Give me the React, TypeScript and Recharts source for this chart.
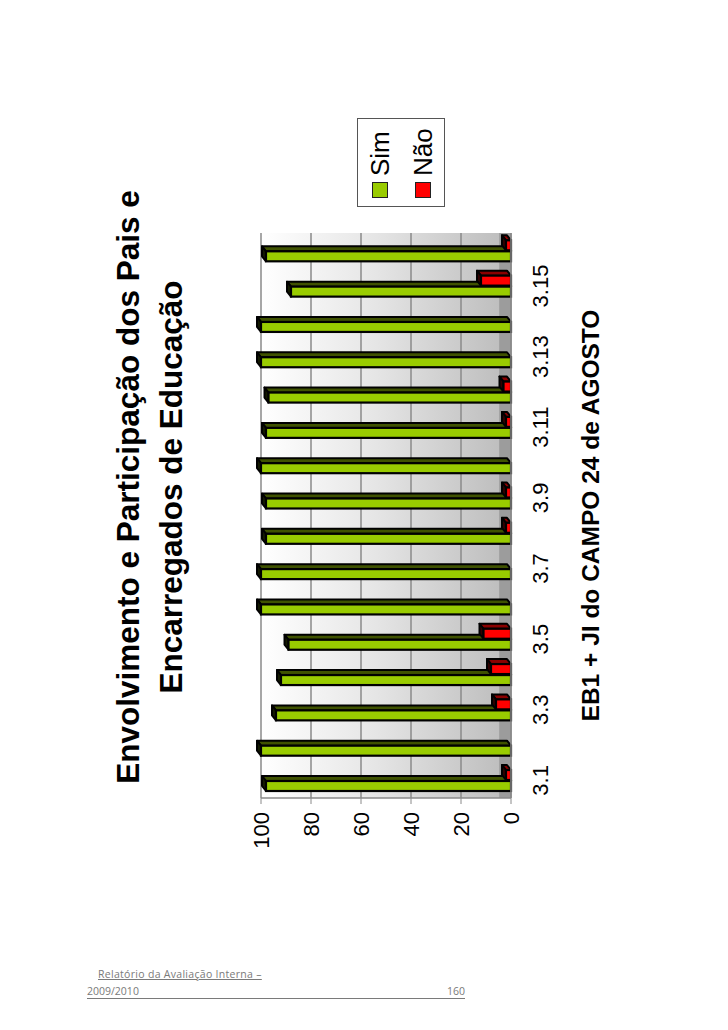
import React from 'react';
import { BarChart, Bar, XAxis, YAxis, CartesianGrid, Legend, Label } from 'recharts';

const CATEGORIES = ['3.1', '3.2', '3.3', '3.4', '3.5', '3.6', '3.7', '3.8', '3.9', '3.10', '3.11', '3.12', '3.13', '3.14', '3.15', '3.16'];
const SIM = [98, 100, 94, 92, 89, 100, 100, 98, 98, 100, 98, 97, 100, 100, 88, 98];
const NAO = [2, 0, 6, 8, 11, 0, 0, 2, 2, 0, 2, 3, 0, 0, 12, 2];
const VALUE_TICKS = [0, 20, 40, 60, 80, 100];
const SERIES_NAMES = ['Sim', 'Não'];

const TITLE_LINES = ['Envolvimento e Participação dos Pais e', 'Encarregados de Educação'];
const AXIS_TITLE = 'EB1 + JI do CAMPO 24 de AGOSTO';

const data = CATEGORIES.map((c, i) => ({ cat: c, sim: SIM[i], nao: NAO[i] }));

const GREEN = '#99cc00';
const RED = '#ff0000';
const FONT = '"Liberation Sans", Arial, Helvetica, sans-serif';

const W = 760;
const H = 540;

function make3D(front: string, side: string, top: string) {
  return (props: any) => {
    const { x, y, width, height, value } = props;
    const v = Array.isArray(value) ? value[1] - value[0] : value;
    if (!v || height <= 0) return null;
    const dx = 5;
    const dy = -4;
    const sidePts = `${x + width},${y} ${x + width + dx},${y + dy} ${x + width + dx},${y + height + dy} ${x + width},${y + height}`;
    const topPts = `${x},${y} ${x + dx},${y + dy} ${x + width + dx},${y + dy} ${x + width},${y}`;
    return (
      <g>
        <polygon points={sidePts} fill={side} stroke="#000" strokeWidth={2} strokeLinejoin="round" />
        <polygon points={topPts} fill={top} stroke="#000" strokeWidth={2} strokeLinejoin="round" />
        <rect x={x} y={y} width={width} height={height} fill={front} stroke="#000" strokeWidth={2.2} />
      </g>
    );
  };
}

const SimShape = make3D(GREEN, '#3f5200', '#141a00');
const NaoShape = make3D(RED, '#8a0000', '#300000');

const LegendContent = (props: any) => {
  const payload = [...(props.payload || [])].sort(
    (a: any, b: any) => SERIES_NAMES.indexOf(a.value) - SERIES_NAMES.indexOf(b.value)
  );
  return (
    <div
      style={{
        width: 89,
        height: 88,
        boxSizing: 'border-box',
        border: '1px solid #555',
        background: '#fff',
        fontFamily: FONT,
      }}
    >
      {payload.map((p: any) => (
        <div key={p.value} style={{ height: 43, display: 'flex', alignItems: 'center', paddingLeft: 8 }}>
          <div style={{ width: 14, height: 14, background: p.color, border: '1px solid #222', marginRight: 6 }} />
          <span style={{ fontSize: 26, color: '#000', lineHeight: '30px' }}>{p.value}</span>
        </div>
      ))}
    </div>
  );
};

export default function App() {
  return (
    <div style={{ position: 'absolute', left: 0, top: 0, width: 728, height: 1030, background: '#fff', overflow: 'hidden' }}>
      <div
        style={{
          position: 'absolute',
          left: 0,
          top: 0,
          width: W,
          height: H,
          transformOrigin: '0 0',
          transform: 'translate(95px, 850px) rotate(-90deg)',
        }}
      >
        <div
          style={{
            position: 'absolute',
            left: 0,
            top: 12,
            width: 726,
            textAlign: 'center',
            fontFamily: FONT,
            fontWeight: 'bold',
            fontSize: 31.5,
            lineHeight: '43px',
            color: '#000',
          }}
        >
          {TITLE_LINES.map((t) => (
            <div key={t}>{t}</div>
          ))}
        </div>
        <BarChart
          width={W}
          height={H}
          data={data}
          margin={{ top: 166, right: 143, left: 7, bottom: 64 }}
          barSize={10}
          barGap={1}
          style={{ fontFamily: FONT }}
        >
          <defs>
            <linearGradient id="wallGrad" x1="0" y1="0" x2="0" y2="1">
              <stop offset="0" stopColor="#ffffff" />
              <stop offset="0.45" stopColor="#e6e6e6" />
              <stop offset="0.95" stopColor="#bfbfbf" />
              <stop offset="0.955" stopColor="#9c9c9c" />
              <stop offset="1" stopColor="#9c9c9c" />
            </linearGradient>
          </defs>
          <CartesianGrid vertical={false} stroke="#8a8a8a" strokeWidth={1.5} fill="url(#wallGrad)" fillOpacity={1} />
          <XAxis
            dataKey="cat"
            interval={1}
            tickLine={false}
            tickSize={6}
            tickMargin={15}
            axisLine={{ stroke: '#8a8a8a', strokeWidth: 1.5 }}
            tick={{ fontSize: 22, fill: '#000' }}
            height={60}
          >
            <Label
              value={AXIS_TITLE}
              position="bottom"
              offset={11}
              style={{ fontSize: 24.5, fontWeight: 'bold', fill: '#000' }}
            />
          </XAxis>
          <YAxis
            domain={[0, 100]}
            ticks={VALUE_TICKS}
            interval={0}
            width={45}
            tickSize={6}
            tickMargin={8}
            tickLine={{ stroke: '#8a8a8a' }}
            axisLine={{ stroke: '#8a8a8a', strokeWidth: 1.5 }}
            tick={{ fontSize: 22, fill: '#000' }}
          />
          <YAxis
            yAxisId="r"
            orientation="right"
            domain={[0, 100]}
            width={0}
            tick={false}
            tickLine={false}
            axisLine={{ stroke: '#8a8a8a', strokeWidth: 1.5 }}
          />
          <Legend
            layout="vertical"
            align="center"
            verticalAlign="middle"
            wrapperStyle={{ left: 643, top: 262, width: 89, height: 88 }}
            content={<LegendContent />}
          />
          <Bar dataKey="sim" name={SERIES_NAMES[0]} fill={GREEN} shape={SimShape} isAnimationActive={false} />
          <Bar dataKey="nao" name={SERIES_NAMES[1]} fill={RED} shape={NaoShape} isAnimationActive={false} />
        </BarChart>
      </div>
      <div
        style={{
          position: 'absolute',
          left: 98,
          top: 967,
          fontFamily: '"Open Sans", "Liberation Sans", sans-serif',
          fontSize: 10.5,
          color: '#7a7a7a',
          textDecoration: 'underline',
          whiteSpace: 'nowrap',
          letterSpacing: 0.3,
        }}
      >
        Relatório da Avaliação Interna –
      </div>
      <div
        style={{
          position: 'absolute',
          left: 87,
          top: 984,
          width: 378,
          display: 'flex',
          justifyContent: 'space-between',
          fontFamily: '"Open Sans", "Liberation Sans", sans-serif',
          fontSize: 10.5,
          color: '#7a7a7a',
          borderBottom: '1px solid #7a7a7a',
          lineHeight: '14px',
        }}
      >
        <span>2009/2010</span>
        <span>160</span>
      </div>
    </div>
  );
}
